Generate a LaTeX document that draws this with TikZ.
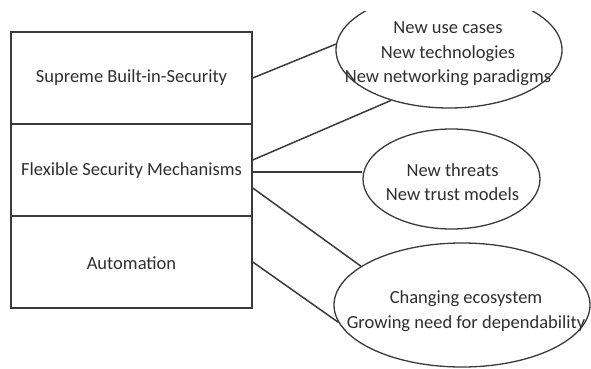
\documentclass[tikz,border=0pt]{standalone}
\usepackage{fontspec}
\setmainfont{Carlito}
\usetikzlibrary{shapes.geometric}

\definecolor{ink}{HTML}{3A3A3A}
\definecolor{txt}{HTML}{2E2E2E}

\tikzset{
  cell/.style={draw=ink, line width=1.5pt, minimum width=241pt, minimum height=92pt,
               inner sep=0pt, anchor=center},
  captext/.style={text=txt, font=\fontsize{18.5}{24.5}\selectfont, align=center, inner sep=0pt},
  oval/.style={draw=ink, line width=1.3pt, ellipse, inner sep=0pt},
  link/.style={draw=ink, line width=1.5pt},
}

\begin{document}
\begin{tikzpicture}[x=1pt, y=-1pt]
  \useasboundingbox (0,0) rectangle (591,369);

  % stacked requirement cells
  \node[cell] (c1) at (131.5,78) {};
  \node[cell] (c2) at (131.5,170) {};
  \node[cell] (c3) at (131.5,262) {};
  \node[captext] (t1) at (131.5,78) {Supreme Built-in-Security};
  \node[captext] (t2) at (131.5,171) {Flexible Security Mechanisms};
  \node[captext] (t3) at (131.5,263) {Automation};

  \begin{scope}
    \clip (0,12) rectangle (591,369);
    % driver ellipses
    \node[oval, minimum width=226pt, minimum height=116pt] (e1) at (449,50) {};
    \node[oval, minimum width=177pt, minimum height=100pt] (e2) at (451.5,179) {};
    \node[oval, minimum width=256pt, minimum height=124pt] (e3) at (462,305) {};
  \end{scope}

  \node[captext] (d1) at (448,54) {New use cases\\New technologies\\New networking paradigms};
  \node[captext] (d2) at (452.5,182) {New threats\\New trust models};
  \node[captext] (d3) at (466,311) {Changing ecosystem\\Growing need for dependability};

  % connectors
  \draw[link] (c1.east) -- (e1.177);
  \draw[link] ([yshift=10pt]c2.east) -- (e1.221);
  \draw[link] ([yshift=-2pt]c2.east) -- ([yshift=7pt]e2.west);
  \draw[link] ([yshift=-18pt]c2.east) -- (e3.159.5);
  \draw[link] (c3.east) -- (e3.188.6);
\end{tikzpicture}
\end{document}
